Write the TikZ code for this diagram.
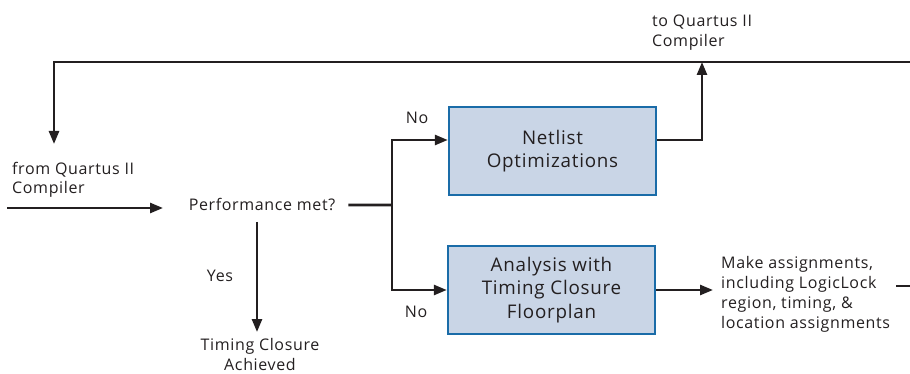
\documentclass[tikz,border=0pt]{standalone}
\usepackage{fontspec}
\setmainfont{Open Sans}[LetterSpace=4]
\usetikzlibrary{arrows.meta}
\definecolor{boxfill}{HTML}{C9D5E6}
\definecolor{boxedge}{HTML}{1A6CA8}
\definecolor{ink}{HTML}{231F20}
\begin{document}
\begin{tikzpicture}[x=1pt,y=-1pt,
  font=\fontsize{16}{20}\selectfont,
  conn/.style={draw=ink, line width=2.6pt},
  arr/.style={conn, -{Triangle[length=13pt,width=10pt]}},
  procbox/.style={draw=boxedge, fill=boxfill, line width=2.4pt,
    minimum width=207pt, minimum height=88pt, inner sep=0pt,
    align=center, font=\fontsize{18.8}{23.5}\selectfont, text=ink},
  lbl/.style={inner sep=0pt, text=ink}]
\useasboundingbox (0,0) rectangle (910,374);

% boxes
\node[procbox] (net) at (552.5,151) {Netlist\\Optimizations};
\node[procbox] (ana) at (551.5,290) {Analysis with\\Timing Closure\\Floorplan};

% texts (base anchor = baseline of the last line)
\node[lbl, anchor=base] (perf) at (262,211) {Performance met?};
\node[lbl, anchor=base, align=center] (tc) at (260,370) {Timing Closure\\Achieved};
\node[lbl, anchor=base west, align=left] (from) at (12,194) {from Quartus II\\Compiler};
\node[lbl, anchor=base west, align=left] (to) at (652,47) {to Quartus II\\Compiler};
\node[lbl, anchor=base west, align=left] (make) at (721,328) {Make assignments,\\including LogicLock\\region, timing, \&\\location assignments};
\node[lbl, anchor=base] (yes) at (220,281) {Yes};
\node[lbl, anchor=base] (no1) at (417,124) {No};
\node[lbl, anchor=base] (no2) at (416,317) {No};

% free ends
\coordinate (topR) at (910,62);
\coordinate (topL) at (54,62);
\coordinate (downTip) at (54,144);
\coordinate (inS) at (7,208);
\coordinate (inE) at (163,208);
\coordinate (split) at (392,205);
\coordinate (upX) at (702,62);
\coordinate (ys) at (257,222);
\coordinate (ye) at (257,332);
\coordinate (outS) at (896,286);
\coordinate (outE) at (910,286);

% connectors
\draw[arr] (topR) -- (topL) -- (downTip);
\draw[arr] (inS) -- (inE);
\draw[conn] ([xshift=13pt]perf.east) -- (split);
\draw[arr] (split) |- ([yshift=11pt]net.west);
\draw[arr] (split) |- (ana.west);
\draw[arr] ([yshift=11pt]net.east) -| (upX);
\draw[arr] (ys) -- (ye);
\draw[arr, shorten >=8pt] (ana.east) -- (ana.east -| make.west);
\draw[conn] (outS) -- (outE);
\end{tikzpicture}
\end{document}
